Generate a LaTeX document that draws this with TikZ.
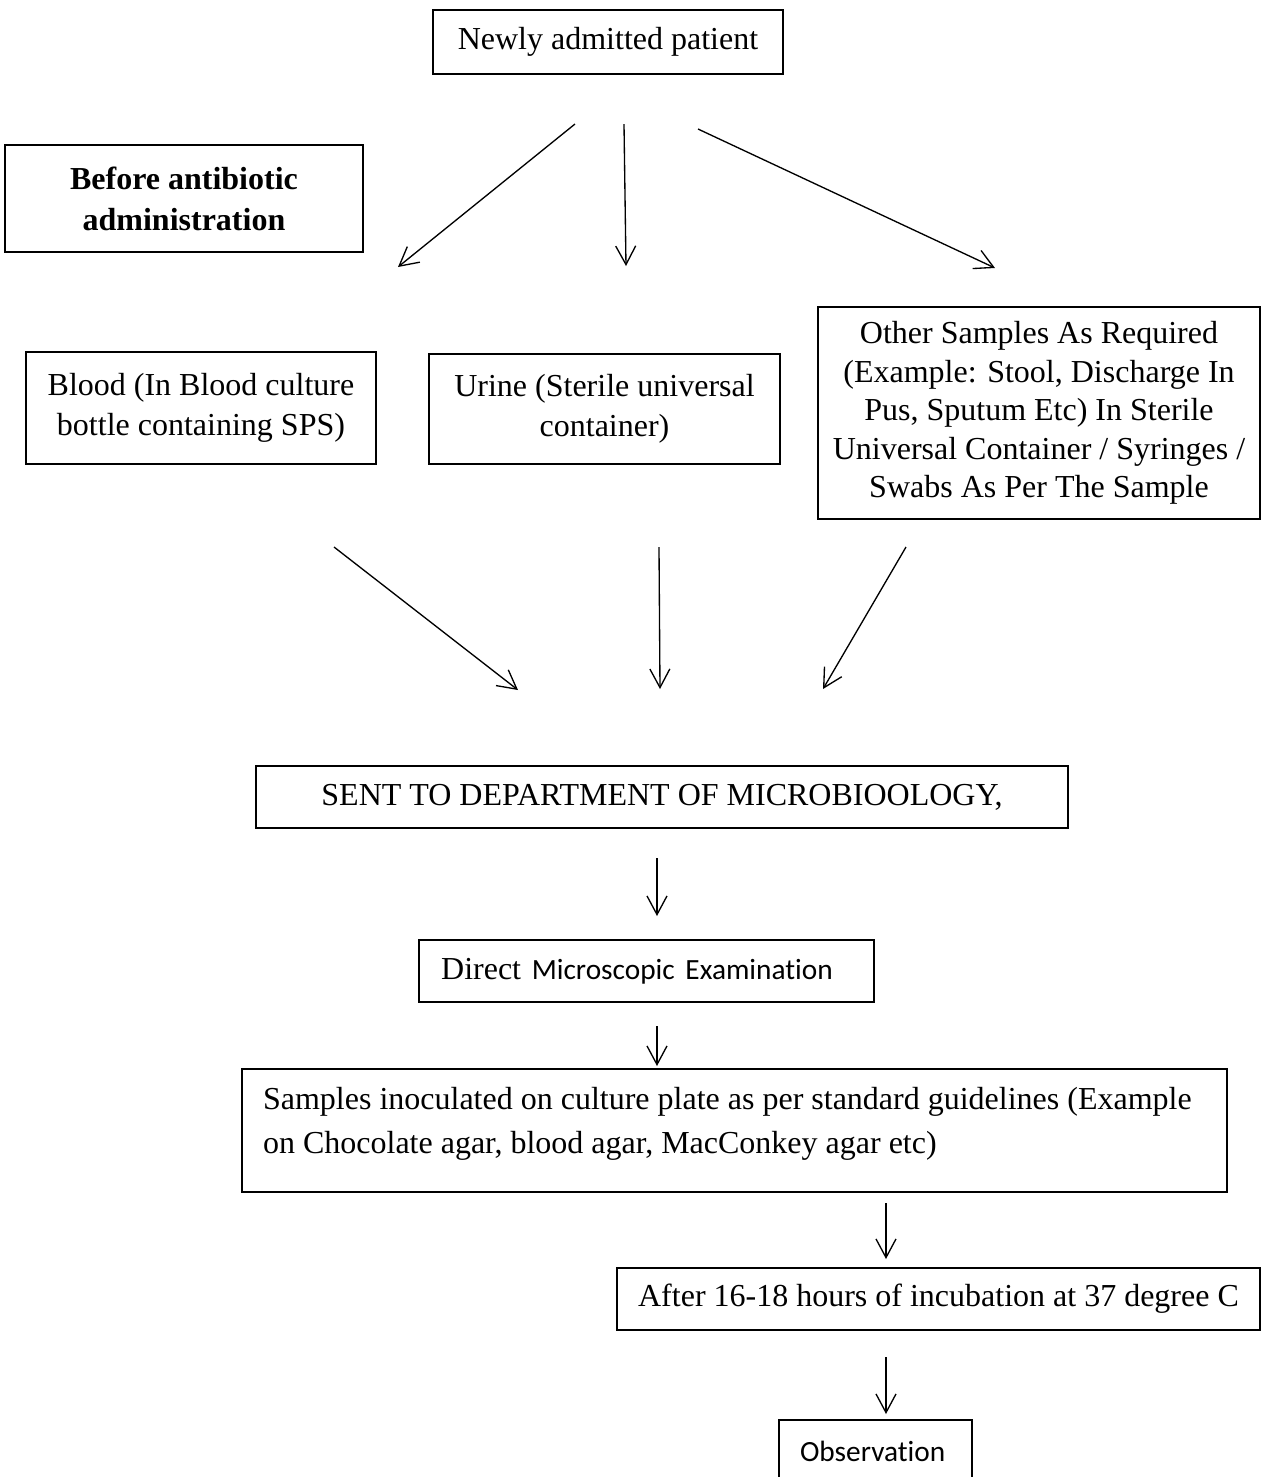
\documentclass[tikz,border=0pt]{standalone}
\usepackage{fontspec}
\setmainfont{Liberation Serif}
\newfontfamily\carlito[Ligatures=NoCommon]{Carlito}
\usetikzlibrary{arrows.meta}

\tikzset{
  boxsize/.style 2 args={minimum width=#1*0.375pt, minimum height=#2*0.375pt},
  flow/.style={-{Straight Barb[length=7pt,width=7.5pt]}, line width=0.5pt}
}

\begin{document}
\begin{tikzpicture}[
    every node/.style={draw, rectangle, line width=0.75pt, align=center,
                       font=\fontsize{12}{14.4}\selectfont},
    x=0.375pt,
    y=-0.375pt]

    \path[use as bounding box] (0,0) rectangle (1267,1477);
    \clip (0,0) rectangle (1267,1477);

    % Patient
    \node[boxsize={350}{64}] (patient) at (608,42) {Newly admitted patient};
    \node[boxsize={358}{107}, font=\fontsize{12}{15.4}\selectfont\bfseries]
         (before) at (184,198.5) {Before antibiotic\\administration};

    % Samples
    \node[boxsize={350}{112}, font=\fontsize{12}{15}\selectfont]
         (blood) at (201,408) {Blood (In Blood culture\\bottle containing SPS)};
    \node[boxsize={351}{110}, font=\fontsize{12}{15}\selectfont]
         (urine) at (604.5,409) {Urine (Sterile universal\\container)};
    \node[boxsize={442}{212}] (other) at (1039,413)
         {Other Samples As Required\\(Example: Stool, Discharge In\\Pus, Sputum Etc) In Sterile\\Universal Container / Syringes /\\Swabs As Per The Sample};

    % Arrows from patient to samples
    \foreach \sx/\sy/\ex/\ey [count=\i] in {575/124/398/267, 624/124/626/266, 698/129/995/268} {
      \coordinate (take\i) at (\sx,\sy);
      \coordinate (sample\i) at (\ex,\ey);
      \draw[flow] (take\i) -- (sample\i);
    }

    % Arrows from samples to department
    \foreach \sx/\sy/\ex/\ey [count=\i] in {334/547/518/690, 659/547/660/689, 906/547/823/689} {
      \coordinate (send\i) at (\sx,\sy);
      \coordinate (recv\i) at (\ex,\ey);
      \draw[flow] (send\i) -- (recv\i);
    }

    % Laboratory
    \node[boxsize={812}{62}] (dept) at (662,797) {SENT TO DEPARTMENT OF MICROBIOOLOGY,};
    \node[inner xsep=8.25pt, text width=154pt, minimum height=23.25pt, align=left]
         (direct) at (646.5,971)
         {Direct {\carlito\fontsize{11}{13}\selectfont Microscopic Examination}};
    \node[anchor=north west, inner xsep=7.9pt, inner ysep=0pt, align=left,
          font=\fontsize{12}{16.5}\selectfont] (inoc) at (241,1068)
         {\parbox[c][46.1pt][t]{353.6pt}{\vspace*{7pt}\raggedright
          Samples inoculated on culture plate as per standard guidelines (Example\\
          on Chocolate agar, blood agar, MacConkey agar etc)}};
    \node[boxsize={643}{62}] (incub) at (938.5,1299) {After 16-18 hours of incubation at 37 degree C};
    \node[inner xsep=7.9pt, text width=56.6pt, minimum height=23.25pt, align=left,
          font=\carlito\fontsize{11}{13}\selectfont] (obs) at (875.5,1451) {Observation};

    % Steps
    \coordinate (d1) at (657,858);   \coordinate (d2) at (657,916);
    \coordinate (d3) at (657,1026);  \coordinate (d4) at (657,1066);
    \coordinate (d5) at (886,1203);  \coordinate (d6) at (886,1259);
    \coordinate (d7) at (886,1357);  \coordinate (d8) at (886,1414);
    \draw[flow] (d1) -- (d2);
    \draw[flow] (d3) -- (d4);
    \draw[flow] (d5) -- (d6);
    \draw[flow] (d7) -- (d8);
  \end{tikzpicture}
\end{document}
